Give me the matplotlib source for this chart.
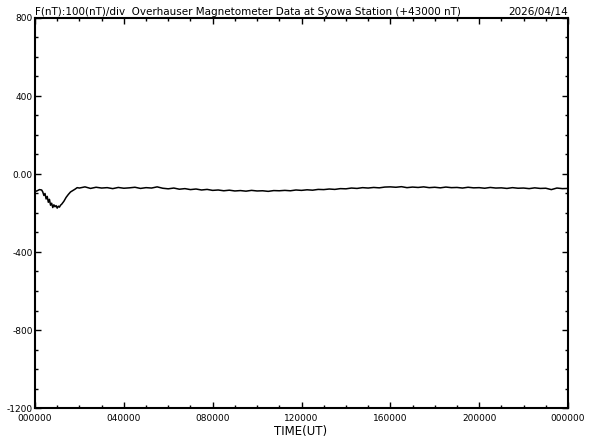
import matplotlib
matplotlib.use("Agg")
import matplotlib.pyplot as plt
from matplotlib.ticker import MultipleLocator, FixedLocator

# ---- data (hours UT, F - 43000 nT) ----
t_early = [0.0, 0.1, 0.2, 0.3, 0.35, 0.4, 0.45, 0.5, 0.55, 0.6, 0.65, 0.7, 0.75, 0.8,
           0.85, 0.9, 0.95, 1.0, 1.05, 1.1, 1.15, 1.2, 1.3, 1.4, 1.5, 1.6, 1.7, 1.8, 1.9]
f_early = [-90, -86, -80, -82, -92, -110, -100, -128, -115, -145, -130, -160, -150, -172,
           -158, -168, -162, -175, -165, -170, -160, -155, -140, -120, -105, -92, -85, -78, -70]

t_late = [2.0, 2.25, 2.5, 2.75, 3.0, 3.25, 3.5, 3.75, 4.0, 4.25, 4.5, 4.75, 5.0, 5.25,
          5.5, 5.75, 6.0, 6.25, 6.5, 6.75, 7.0, 7.25, 7.5, 7.75, 8.0, 8.25, 8.5, 8.75,
          9.0, 9.25, 9.5, 9.75, 10.0, 10.25, 10.5, 10.75, 11.0, 11.25, 11.5, 11.75, 12.0,
          12.25, 12.5, 12.75, 13.0, 13.25, 13.5, 13.75, 14.0, 14.25, 14.5, 14.75, 15.0,
          15.25, 15.5, 15.75, 16.0, 16.25, 16.5, 16.75, 17.0, 17.25, 17.5, 17.75, 18.0,
          18.25, 18.5, 18.75, 19.0, 19.25, 19.5, 19.75, 20.0, 20.25, 20.5, 20.75, 21.0,
          21.25, 21.5, 21.75, 22.0, 22.25, 22.5, 22.75, 23.0, 23.25, 23.5, 23.75, 24.0]
f_late = [-72, -66, -74, -68, -72, -70, -75, -69, -73, -71, -68, -74, -70, -72,
          -66, -73, -76, -72, -78, -75, -80, -77, -82, -79, -84, -82, -86, -83,
          -87, -85, -88, -84, -87, -86, -89, -85, -86, -84, -86, -82, -84,
          -81, -83, -79, -80, -77, -79, -75, -76, -72, -74, -70, -72,
          -69, -71, -67, -66, -68, -65, -70, -67, -69, -66, -70, -68,
          -71, -67, -70, -69, -72, -68, -71, -70, -73, -69, -72, -71,
          -74, -70, -73, -72, -75, -71, -74, -73, -80, -72, -75, -74]

x_tick_pos = [0, 4, 8, 12, 16, 20, 24]
x_tick_labels = ["000000", "040000", "080000", "120000", "160000", "200000", "000000"]
y_tick_pos = [-1200, -800, -400, 0, 400, 800]
y_tick_labels = ["-1200", "-800", "-400", "0.00", "400", "800"]

t = t_early + t_late
f = f_early + f_late

fig = plt.figure(figsize=(5.92, 4.40), dpi=100)
ax = fig.add_axes([35/592, 1 - 408/440, 533/592, 390/440])
ax.plot(t, f, color="black", lw=1.1)

ax.set_xlim(0, 24)
ax.set_ylim(-1200, 800)
ax.xaxis.set_major_locator(FixedLocator(x_tick_pos))
ax.xaxis.set_minor_locator(MultipleLocator(1))
ax.yaxis.set_major_locator(FixedLocator(y_tick_pos))
ax.yaxis.set_minor_locator(MultipleLocator(100))
ax.set_xticklabels(x_tick_labels)
ax.set_yticklabels(y_tick_labels)

ax.tick_params(which="both", direction="in", top=True, right=True, width=1.0,
               labelsize=6.5, colors="black")
ax.tick_params(which="major", length=4)
ax.tick_params(which="minor", length=2.5)
ax.tick_params(axis="x", which="major", pad=4)
ax.tick_params(axis="y", which="major", pad=1.5)
for s in ax.spines.values():
    s.set_linewidth(1.5)

fig.text(35/592, 1 - 12/440, "F(nT):100(nT)/div  Overhauser Magnetometer Data at Syowa Station (+43000 nT)",
         fontsize=7.5, ha="left", va="center")
fig.text(568/592, 1 - 12/440, "2026/04/14", fontsize=7.5, ha="right", va="center")
fig.text(301/592, 1 - 431/440, "TIME(UT)", fontsize=8.5, ha="center", va="center")

fig.savefig("out.png", dpi=100, facecolor="white")
